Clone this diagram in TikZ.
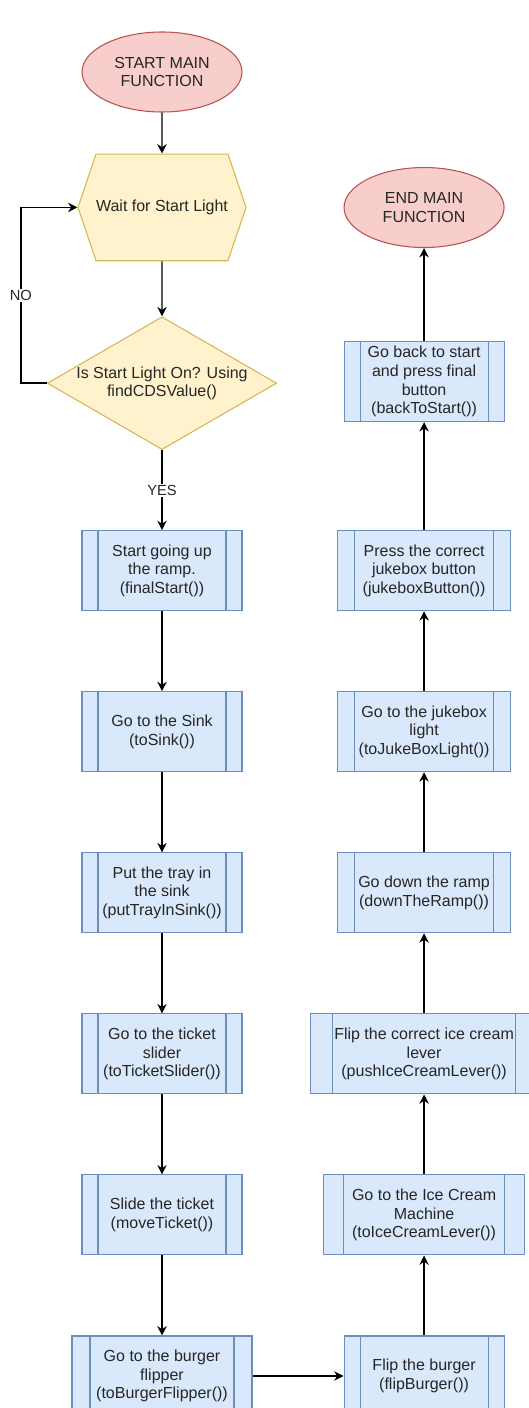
\documentclass[tikz,border=0pt]{standalone}
\usepackage{fontspec}
\setmainfont{Liberation Sans}
\usepackage{tikz}
\usetikzlibrary{arrows.meta,positioning,calc,shapes.geometric,shapes.symbols}
\definecolor{redfill}{HTML}{F8CECC}\definecolor{redline}{HTML}{B85450}
\definecolor{yelfill}{HTML}{FFF2CC}\definecolor{yelline}{HTML}{D6B656}
\definecolor{bluefill}{HTML}{DAE8FC}\definecolor{blueline}{HTML}{6C8EBF}
\definecolor{textgray}{HTML}{262626}
\begin{document}
\begin{tikzpicture}[font=\fontsize{12}{14}\selectfont,line width=0.8pt,text=textgray,
  >={Stealth[length=7pt,width=7pt]},
  term/.style={ellipse,draw=redline,fill=redfill,minimum width=120pt,minimum height=60pt,inner sep=0pt,align=center},
  prep/.style={signal,signal to=east and west,signal pointer angle=142.6,draw=yelline,fill=yelfill,
    minimum width=120pt,minimum height=80pt,inner sep=0pt,align=center},
  dec/.style={diamond,aspect=1.727,draw=yelline,fill=yelfill,minimum width=171pt,minimum height=99pt,inner sep=0pt,align=center},
  sub/.style={draw=blueline,fill=bluefill,minimum width=120pt,minimum height=60pt,inner sep=2pt,align=center,
    path picture={\draw[blueline]
      ($(path picture bounding box.north west)!0.1!(path picture bounding box.north east)$) --
      ($(path picture bounding box.south west)!0.1!(path picture bounding box.south east)$)
      ($(path picture bounding box.north east)!0.1!(path picture bounding box.north west)$) --
      ($(path picture bounding box.south east)!0.1!(path picture bounding box.south west)$);}},
  flow/.style={->,line width=1.1pt},
  lbl/.style={fill=white,inner sep=1pt,font=\fontsize{11}{13}\selectfont}]
  \useasboundingbox (0,0) rectangle (396pt,-1056pt);
  % left column, going down
  \node[term] (start) at (121.5pt,-54pt) {START MAIN\\FUNCTION};
  \node[prep,below=30.75pt of start] (wait) {Wait for Start Light};
  \node[dec,below=41.25pt of wait] (check) {Is Start Light On? Using\\findCDSValue()};
  \node[sub,below=60pt of check] (ramp) {Start going up\\the ramp.\\(finalStart())};
  \node[sub,below=60pt of ramp] (sink) {Go to the Sink\\(toSink())};
  \node[sub,below=60pt of sink] (tray) {Put the tray in\\the sink\\(putTrayInSink())};
  \node[sub,below=60pt of tray] (ticket) {Go to the ticket\\slider\\(toTicketSlider())};
  \node[sub,below=60pt of ticket] (slide) {Slide the ticket\\(moveTicket())};
  \node[sub,minimum width=135pt,below=60pt of slide] (flipper) {Go to the burger\\flipper\\(toBurgerFlipper())};
  % right column, going up
  \node[sub,right=68.25pt of flipper] (burger) {Flip the burger\\(flipBurger())};
  \node[sub,minimum width=150.75pt,above=60pt of burger] (machine) {Go to the Ice Cream\\Machine\\(toIceCreamLever())};
  \node[sub,minimum width=171pt,above=60pt of machine] (lever) {Flip the correct ice cream\\lever\\(pushIceCreamLever())};
  \node[sub,minimum width=130pt,above=60pt of lever] (down) {Go down the ramp\\(downTheRamp())};
  \node[sub,minimum width=130pt,above=60pt of down] (light) {Go to the jukebox\\light\\(toJukeBoxLight())};
  \node[sub,minimum width=130pt,above=60pt of light] (button) {Press the correct\\jukebox button\\(jukeboxButton())};
  \node[sub,above=81pt of button] (back) {Go back to start\\and press final\\button\\(backToStart())};
  \node[term,above=69.75pt of back] (end) {END MAIN\\FUNCTION};
  \draw[flow](start)--(wait);\draw[flow](wait)--(check);
  \draw[flow](check.west)--++(-19.5pt,0)|-(wait.west) node[lbl,pos=0.25]{NO};
  \draw[flow](check)--node[lbl]{YES}(ramp);
  \draw[flow](ramp)--(sink);\draw[flow](sink)--(tray);\draw[flow](tray)--(ticket);
  \draw[flow](ticket)--(slide);\draw[flow](slide)--(flipper);\draw[flow](flipper)--(burger);
  \draw[flow](burger)--(machine);\draw[flow](machine)--(lever);\draw[flow](lever)--(down);
  \draw[flow](down)--(light);\draw[flow](light)--(button);\draw[flow](button)--(back);
  \draw[flow](back)--(end);
\end{tikzpicture}
\end{document}
